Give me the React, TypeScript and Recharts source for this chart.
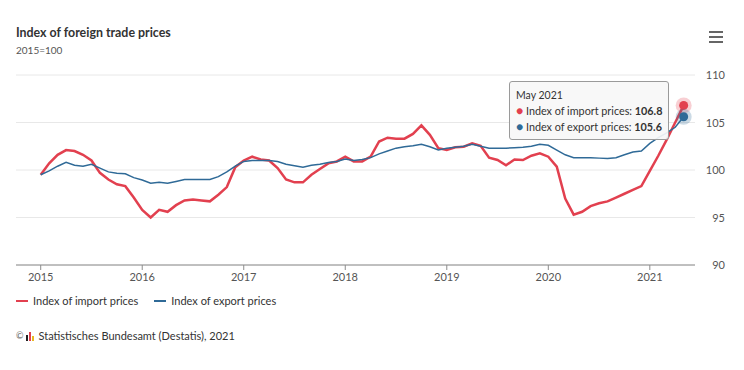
import React from 'react';
import { LineChart, Line, XAxis, YAxis, CartesianGrid, Tooltip } from 'recharts';

const monthNames = ['January', 'February', 'March', 'April', 'May', 'June', 'July', 'August', 'September', 'October', 'November', 'December'];
const startYear = 2015;

const importPrices = [
  99.5, 100.7, 101.6, 102.1, 102.0, 101.6, 101.0, 99.7, 99.0, 98.5, 98.3, 97.1,
  95.8, 95.0, 95.8, 95.6, 96.3, 96.8, 96.9, 96.8, 96.7, 97.4, 98.2, 100.3,
  101.0, 101.4, 101.1, 101.0, 100.2, 99.0, 98.7, 98.7, 99.5, 100.1, 100.7, 100.9,
  101.4, 100.9, 100.9, 101.4, 103.0, 103.4, 103.3, 103.3, 103.8, 104.7, 103.7, 102.3,
  102.1, 102.4, 102.45, 102.8, 102.55, 101.3, 101.05, 100.5, 101.1, 101.05, 101.5, 101.75,
  101.4, 100.35, 97.0, 95.3, 95.6, 96.2, 96.5, 96.7, 97.1, 97.5, 97.9, 98.3,
  99.9, 101.5, 103.2, 105.0, 106.8,
];

const exportPrices = [
  99.5, 99.9, 100.4, 100.8, 100.5, 100.4, 100.6, 100.2, 99.8, 99.65, 99.6, 99.2,
  98.95, 98.6, 98.7, 98.6, 98.8, 99.0, 99.0, 99.0, 99.0, 99.3, 99.8, 100.4,
  100.9, 101.0, 101.0, 101.0, 100.9, 100.6, 100.45, 100.3, 100.5, 100.6, 100.8, 100.9,
  101.15, 101.0, 101.1, 101.3, 101.7, 102.0, 102.3, 102.45, 102.55, 102.7, 102.45, 102.1,
  102.3, 102.4, 102.5, 102.7, 102.5, 102.3, 102.3, 102.3, 102.35, 102.4, 102.5, 102.7,
  102.6, 102.1, 101.6, 101.3, 101.3, 101.3, 101.25, 101.2, 101.3, 101.6, 101.9, 102.0,
  102.8, 103.4, 103.9, 104.5, 105.6,
];

const yearTicks = [2015, 2016, 2017, 2018, 2019, 2020, 2021];
const yTicks = [90, 95, 100, 105, 110];

const seriesNames = ['Index of import prices', 'Index of export prices'];
const seriesKeys = ['imp', 'exp'];
const seriesColors = ['#e2404f', '#2f6a97'];
const seriesWidths = [2.5, 1.5];

const data = importPrices.map((v, i) => ({
  t: i,
  label: `${monthNames[i % 12]} ${startYear + Math.floor(i / 12)}`,
  imp: v,
  exp: exportPrices[i],
}));

const FONT = 'Lato, "Noto Sans", sans-serif';

const YTick = (props: any) => {
  const { x, y, payload } = props;
  return (
    <text x={x + 30} y={y} dy={4} textAnchor="end" fontSize={11} fill="#555" fontFamily={FONT}>
      {payload.value}
    </text>
  );
};

const makeActiveDot = (color: string) => (props: any) => {
  const { cx, cy } = props;
  if (cx == null || cy == null) return <g />;
  return (
    <g>
      <circle cx={cx} cy={cy} r={8} fill={color} fillOpacity={0.25} />
      <circle cx={cx} cy={cy} r={4.5} fill={color} />
    </g>
  );
};

const TooltipBox = (props: any) => {
  const { active, payload } = props;
  if (!active || !payload || !payload.length) return null;
  const row = payload[0].payload;
  return (
    <div
      style={{
        background: 'rgba(247,247,247,0.92)',
        border: '1px solid #9a9a9a',
        borderRadius: 3,
        padding: '5px 6px 4px 6px',
        fontFamily: FONT,
        fontSize: 10.8,
        color: '#333',
        lineHeight: '16px',
        whiteSpace: 'nowrap',
      }}
    >
      <div style={{ fontSize: 10.5 }}>{row.label}</div>
      {payload.map((p: any) => (
        <div key={p.dataKey}>
          <span style={{ color: p.color, fontSize: 12 }}>●</span>{' '}
          {p.name}: <b>{p.value}</b>
        </div>
      ))}
    </div>
  );
};

export default function App() {
  return (
    <div style={{ position: 'absolute', left: 0, top: 0, width: 744, height: 370, background: '#fff', fontFamily: FONT }}>
      <div style={{ position: 'absolute', left: 16, top: 25, fontSize: 12.4, fontWeight: 700, color: '#333', lineHeight: '16px' }}>
        Index of foreign trade prices
      </div>
      <div style={{ position: 'absolute', left: 16, top: 44, fontSize: 10, color: '#555', lineHeight: '12px' }}>
        2015=100
      </div>
      <svg style={{ position: 'absolute', left: 709, top: 31 }} width={14} height={12}>
        <rect x={0} y={0} width={14} height={2} fill="#666" />
        <rect x={0} y={5} width={14} height={2} fill="#666" />
        <rect x={0} y={10} width={14} height={2} fill="#666" />
      </svg>

      <div style={{ position: 'absolute', left: 0, top: 0 }}>
        <LineChart width={744} height={300} data={data} margin={{ top: 75, right: 0, bottom: 5, left: 16 }}>
          <CartesianGrid vertical={false} stroke="#e8e8e8" />
          <XAxis
            type="number"
            dataKey="t"
            domain={[-2.92, 77.34]}
            allowDataOverflow
            ticks={yearTicks.map((y) => (y - startYear) * 12)}
            tickFormatter={(v: number) => String(startYear + v / 12)}
            axisLine={{ stroke: '#8c8c8c' }}
            tickLine={{ stroke: '#8c8c8c' }}
            tickSize={5}
            tickMargin={3}
            height={30}
            tick={{ fontSize: 11, fill: '#555', fontFamily: FONT }}
          />
          <YAxis
            orientation="right"
            domain={[90, 110]}
            ticks={yTicks}
            axisLine={false}
            tickLine={false}
            tickSize={0}
            tickMargin={0}
            width={49}
            tick={<YTick />}
          />
          <Tooltip
            content={<TooltipBox />}
            defaultIndex={data.length - 1}
            active={true}
            position={{ x: 509, y: 81 }}
            cursor={false}
            isAnimationActive={false}
          />
          {seriesKeys.map((k, i) => (
            <Line
              key={k}
              type="linear"
              dataKey={k}
              name={seriesNames[i]}
              stroke={seriesColors[i]}
              strokeWidth={seriesWidths[i]}
              dot={false}
              activeDot={makeActiveDot(seriesColors[i])}
              isAnimationActive={false}
            />
          ))}
        </LineChart>
      </div>

      <div style={{ position: 'absolute', left: 16, top: 294, display: 'flex', fontSize: 11, color: '#333', lineHeight: '14px' }}>
        {seriesNames.map((n, i) => (
          <div key={n} style={{ display: 'flex', alignItems: 'center', marginRight: 16 }}>
            <div style={{ width: 12, height: 2, background: seriesColors[i], marginRight: 5 }} />
            <span>{n}</span>
          </div>
        ))}
      </div>

      <div style={{ position: 'absolute', left: 16, top: 329, display: 'flex', alignItems: 'center', fontSize: 11, color: '#333', lineHeight: '14px' }}>
        <span style={{ fontSize: 9, color: '#666', marginRight: 2 }}>©</span>
        <svg width={10} height={10} style={{ marginRight: 3 }}>
          <rect x={1} y={4} width={2} height={6} fill="#222" />
          <rect x={4} y={1} width={2} height={9} fill="#e2404f" />
          <rect x={7} y={5} width={2} height={5} fill="#e8b923" />
        </svg>
        <span>Statistisches Bundesamt (Destatis), 2021</span>
      </div>
    </div>
  );
}
